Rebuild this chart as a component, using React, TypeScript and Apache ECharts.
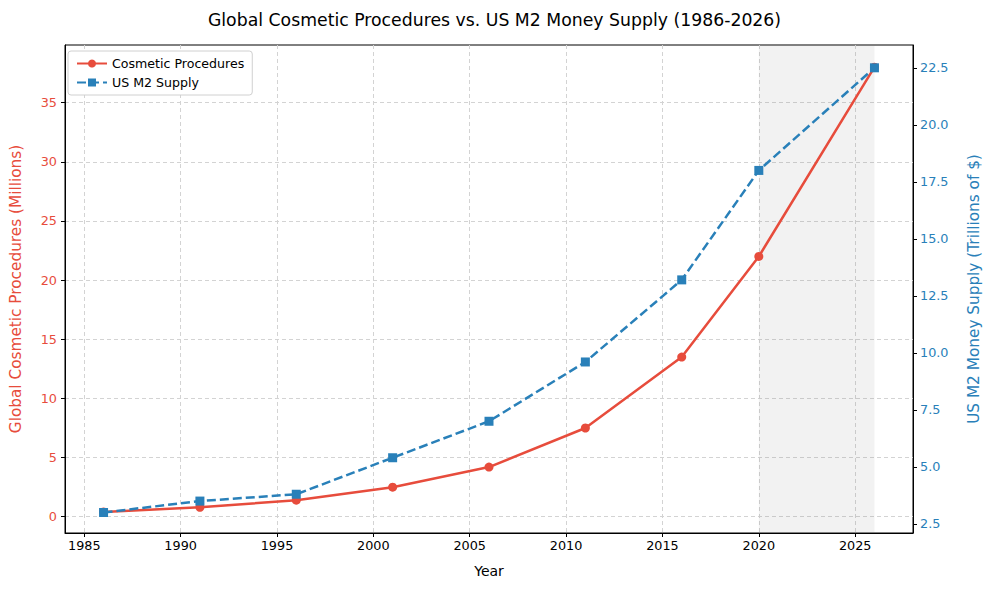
import React, { useEffect, useRef } from "react";
import * as echarts from "echarts";

const years = [1986, 1991, 1996, 2001, 2006, 2011, 2016, 2020, 2026];
const cosmeticProcedures = [0.4, 0.8, 1.4, 2.5, 4.2, 7.5, 13.5, 22, 38];
const m2Supply = [3.0, 3.5, 3.8, 5.4, 7.0, 9.6, 13.2, 18.0, 22.5];
const xTicks = [1985, 1990, 1995, 2000, 2005, 2010, 2015, 2020, 2025];
const leftTicks = [0, 5, 10, 15, 20, 25, 30, 35];
const rightTicks = [2.5, 5, 7.5, 10, 12.5, 15, 17.5, 20, 22.5];
const shadedRange = [2020, 2026];

const RED = "#e74c3c";
const BLUE = "#2980b9";
const FONT = "DejaVu Sans";

export default function App() {
  const ref = useRef<HTMLDivElement>(null);
  useEffect(() => {
    if (!ref.current) return;
    const chart = echarts.init(ref.current, null, { renderer: "svg" });
    const grid = { left: 62, right: 76, top: 45, bottom: 57 };
    const gridLine = { show: true, lineStyle: { color: "#d3d3d3", type: [4, 3], width: 1 } };
    chart.setOption({
      animation: false,
      backgroundColor: "#fff",
      textStyle: { fontFamily: FONT },
      title: {
        text: "Global Cosmetic Procedures vs. US M2 Money Supply (1986-2026)",
        left: "center",
        top: 6,
        textStyle: { fontFamily: FONT, fontSize: 17.3, fontWeight: "normal", color: "#000" },
      },
      legend: {
        orient: "vertical",
        left: 68,
        top: 51,
        itemWidth: 30,
        itemHeight: 10,
        itemGap: 6,
        padding: [6, 8, 6, 8],
        backgroundColor: "#fff",
        borderColor: "#d0d0d0",
        borderWidth: 1,
        borderRadius: 3,
        textStyle: { fontFamily: FONT, fontSize: 12.6, color: "#000" },
        data: ["Cosmetic Procedures", "US M2 Supply"],
      },
      grid: {
        ...grid,
        show: true,
        borderColor: "#000",
        borderWidth: 1,
        backgroundColor: "transparent",
      },
      xAxis: {
        type: "value",
        min: 1984,
        max: 2028,
        name: "Year",
        nameLocation: "middle",
        nameGap: 31,
        nameTextStyle: { fontFamily: FONT, fontSize: 14, color: "#000" },
        axisLine: { show: true, onZero: false, lineStyle: { color: "#000", width: 1 } },
        axisTick: { show: true, length: 4, lineStyle: { color: "#000" }, customValues: xTicks },
        axisLabel: {
          customValues: xTicks,
          color: "#000",
          fontSize: 12.8,
          fontFamily: FONT,
          margin: 6,
          formatter: (v: number) => String(v),
        },
        splitLine: gridLine,
      },
      yAxis: [
        {
          type: "value",
          min: -1.375,
          max: 39.875,
          position: "left",
          name: "Global Cosmetic Procedures (Millions)",
          nameLocation: "middle",
          nameGap: 42,
          nameRotate: 90,
          nameTextStyle: { fontFamily: FONT, fontSize: 15.3, color: RED },
          axisLine: { show: true, onZero: false, lineStyle: { color: "#000", width: 1 } },
          axisTick: { show: true, length: 4, lineStyle: { color: "#000" }, customValues: leftTicks },
          axisLabel: {
            customValues: leftTicks,
            color: RED,
            fontSize: 12.8,
            fontFamily: FONT,
            margin: 8,
            formatter: (v: number) => String(v),
          },
          splitLine: gridLine,
        },
        {
          type: "value",
          min: 2.1,
          max: 23.5,
          position: "right",
          name: "US M2 Money Supply (Trillions of $)",
          nameLocation: "middle",
          nameGap: 53,
          nameRotate: 90,
          nameTextStyle: { fontFamily: FONT, fontSize: 15.3, color: BLUE },
          axisLine: { show: true, onZero: false, lineStyle: { color: "#000", width: 1 } },
          axisTick: { show: true, length: 4, lineStyle: { color: "#000" }, customValues: rightTicks },
          axisLabel: {
            customValues: rightTicks,
            color: BLUE,
            fontSize: 12.8,
            fontFamily: FONT,
            margin: 7,
            formatter: (v: number) => v.toFixed(1),
          },
          splitLine: { show: false },
        },
      ],
      series: [
        {
          name: "Cosmetic Procedures",
          type: "line",
          yAxisIndex: 0,
          data: years.map((y, i) => [y, cosmeticProcedures[i]]),
          symbol: "circle",
          symbolSize: 9,
          lineStyle: { color: RED, width: 2.5 },
          itemStyle: { color: RED },
          z: 3,
          markArea: {
            silent: true,
            itemStyle: { color: "rgba(128,128,128,0.1)" },
            data: [[{ xAxis: shadedRange[0] }, { xAxis: shadedRange[1] }]],
          },
        },
        {
          name: "US M2 Supply",
          type: "line",
          yAxisIndex: 1,
          data: years.map((y, i) => [y, m2Supply[i]]),
          symbol: "rect",
          symbolSize: 9,
          lineStyle: { color: BLUE, width: 2.5, type: [9, 4] },
          itemStyle: { color: BLUE },
          z: 4,
        },
      ],
    });
    return () => chart.dispose();
  }, []);
  return <div ref={ref} style={{ width: 989, height: 590, position: "absolute", left: 0, top: 0 }} />;
}
